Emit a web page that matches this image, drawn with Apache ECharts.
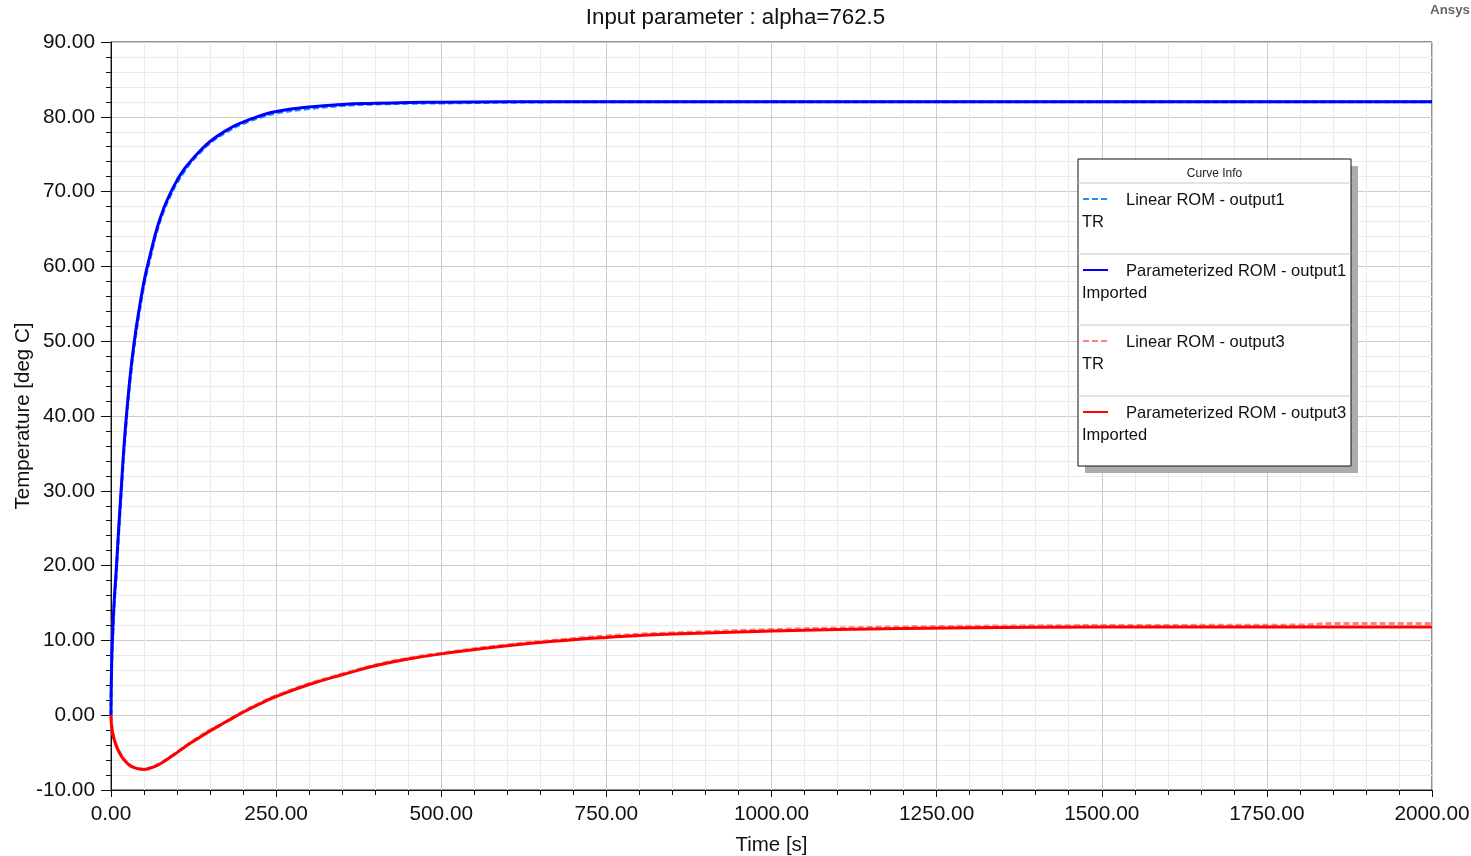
<!DOCTYPE html>
<html>
<head>
<meta charset="utf-8">
<title>Input parameter : alpha=762.5</title>
<script src="https://cdn.jsdelivr.net/npm/echarts@6.0.0/dist/echarts.min.js"></script>
<style>
  html, body { margin: 0; padding: 0; background: #fff; overflow: hidden; }
  #chart { width: 100vw; height: 100vh; }
</style>
</head>
<body>
<div id="chart"></div>
<script>
// time samples [s], shared by every curve
const timeS = [0, 1, 3, 5, 8, 11, 16, 21, 28, 35, 43, 50, 55, 60, 70, 80, 90, 100, 110, 120,
  130, 150, 175, 200, 225, 250, 300, 350, 400, 450, 500, 600, 700, 750, 850, 1000, 1100, 1200,
  1400, 1600, 1800, 1850, 2000];

// temperatures [deg C]
const linearOut1 = [0, 6.5, 11.5, 15, 19, 23.5, 30.5, 37, 44, 49.3, 54, 57.6, 59.6, 61.4, 64.9,
  67.5, 69.5, 71.2, 72.6, 73.8, 74.8, 76.5, 78.0, 79.1, 79.9, 80.5, 81.1, 81.5, 81.7, 81.8,
  81.85, 81.95, 82, 82, 82, 82, 82, 82, 82, 82, 82, 82, 82];
const paramOut1 = [0, 7, 12, 15.5, 19.5, 24, 31, 37.5, 44.5, 49.8, 54.5, 58, 60, 61.8, 65.2,
  67.8, 69.8, 71.5, 72.9, 74.0, 75.0, 76.7, 78.2, 79.3, 80.1, 80.7, 81.3, 81.65, 81.8, 81.9,
  81.95, 82, 82, 82, 82, 82, 82, 82, 82, 82, 82, 82, 82];
const linearOut3 = [0, -1.4, -2.5, -3.2, -4.0, -4.6, -5.4, -6.0, -6.6, -6.95, -7.15, -7.2,
  -7.15, -7.0, -6.65, -6.15, -5.55, -4.95, -4.3, -3.7, -3.1, -2.0, -0.8, 0.5, 1.6, 2.6, 4.2,
  5.5, 6.7, 7.6, 8.3, 9.4, 10.25, 10.6, 11.0, 11.45, 11.65, 11.8, 11.95, 12.0, 12.05, 12.25, 12.25];
const paramOut3 = [0, -1.5, -2.6, -3.3, -4.1, -4.7, -5.5, -6.1, -6.7, -7.0, -7.2, -7.25,
  -7.2, -7.05, -6.7, -6.2, -5.6, -5.0, -4.35, -3.75, -3.2, -2.1, -0.85, 0.4, 1.5, 2.5, 4.1,
  5.4, 6.6, 7.5, 8.2, 9.3, 10.1, 10.4, 10.85, 11.25, 11.45, 11.6, 11.75, 11.8, 11.8, 11.8, 11.8];

const seriesNames = ['Linear ROM - output1', 'Parameterized ROM - output1',
  'Linear ROM - output3', 'Parameterized ROM - output3'];
const sourceNames = ['TR', 'Imported', 'TR', 'Imported'];
const seriesColors = ['#1e8fff', '#0000ff', '#ff8080', '#ff0000'];
const seriesDashed = [true, false, true, false];
const seriesValues = [linearOut1, paramOut1, linearOut3, paramOut3];

const xTicks = { min: 0, max: 2000, step: 250 };
const yTicks = { min: -10, max: 90, step: 10 };

const FONT = '"Liberation Sans", Arial, sans-serif';

const chart = echarts.init(document.getElementById('chart'), null, { renderer: 'canvas' });

const series = seriesNames.map((name, i) => ({
  name,
  type: 'line',
  data: timeS.map((t, k) => [t, seriesValues[i][k]]),
  showSymbol: false,
  smooth: 0.5,
  lineStyle: {
    color: seriesColors[i],
    width: 3,
    type: seriesDashed[i] ? [6, 3] : 'solid'
  },
  itemStyle: { color: seriesColors[i] }
}));

// legend box ("Curve Info") drawn as graphic
const box = { x: 1078, y: 159, w: 273, h: 307, rowH: 71, head: 24 };
const Z = 100;
const legendChildren = [
  { type: 'rect', z: Z, shape: { x: box.x + 7, y: box.y + 7, width: box.w, height: box.h },
    style: { fill: '#acacac' } },
  { type: 'rect', z: Z + 1, shape: { x: box.x, y: box.y, width: box.w, height: box.h },
    style: { fill: '#fff', stroke: '#111', lineWidth: 1 } },
  { type: 'text', z: Z + 2, x: box.x + box.w / 2, y: box.y + 15,
    style: { text: 'Curve Info', font: '12px ' + FONT, fill: '#222', align: 'center', verticalAlign: 'middle' } },
  { type: 'line', z: Z + 2, shape: { x1: box.x, y1: box.y + box.head, x2: box.x + box.w, y2: box.y + box.head },
    style: { stroke: '#c8c8c8', lineWidth: 1 } }
];
seriesNames.forEach((name, i) => {
  const top = box.y + box.head + i * box.rowH;
  if (i > 0) {
    legendChildren.push({ type: 'line', z: Z + 2, shape: { x1: box.x, y1: top, x2: box.x + box.w, y2: top },
      style: { stroke: '#c8c8c8', lineWidth: 1 } });
  }
  legendChildren.push({ type: 'line', z: Z + 2,
    shape: { x1: box.x + 5, y1: top + 16, x2: box.x + 30, y2: top + 16 },
    style: { stroke: seriesColors[i], lineWidth: 2, lineDash: seriesDashed[i] ? [6, 3] : null } });
  legendChildren.push({ type: 'text', z: Z + 2, x: box.x + 48, y: top + 17,
    style: { text: name, font: '16.5px ' + FONT, fill: '#111', verticalAlign: 'middle' } });
  legendChildren.push({ type: 'text', z: Z + 2, x: box.x + 4, y: top + 39,
    style: { text: sourceNames[i], font: '16.5px ' + FONT, fill: '#111', verticalAlign: 'middle' } });
});

const option = {
  backgroundColor: '#fff',
  animation: false,
  title: {
    text: 'Input parameter : alpha=762.5',
    left: 'center',
    top: 7,
    padding: 0,
    textStyle: { fontFamily: FONT, fontSize: 22.3, fontWeight: 'normal', color: '#111' }
  },
  grid: {
    left: 111, right: 39, top: 42, bottom: 66,
    outerBoundsMode: 'none',
    show: true, borderColor: '#222', borderWidth: 1, backgroundColor: '#fff'
  },
  xAxis: {
    type: 'value',
    min: xTicks.min, max: xTicks.max, interval: xTicks.step,
    name: 'Time [s]',
    nameLocation: 'middle',
    nameGap: 45,
    nameMoveOverlap: false,
    nameTextStyle: { fontFamily: FONT, fontSize: 20.5, color: '#111' },
    axisLine: { onZero: false, lineStyle: { color: '#111', width: 1 } },
    axisTick: { show: true, length: 7, lineStyle: { color: '#111' } },
    minorTick: { show: true, splitNumber: 5, length: 5, lineStyle: { color: '#111' } },
    axisLabel: { margin: 14, fontFamily: FONT, fontSize: 20.8, color: '#111',
      formatter: v => v.toFixed(2) },
    splitLine: { show: true, lineStyle: { color: '#cccccc', width: 1 } },
    minorSplitLine: { show: true, lineStyle: { color: '#ebebeb', width: 1 } }
  },
  yAxis: {
    type: 'value',
    min: yTicks.min, max: yTicks.max, interval: yTicks.step,
    name: 'Temperature [deg C]',
    nameLocation: 'middle',
    nameGap: 77,
    nameMoveOverlap: false,
    nameTextStyle: { fontFamily: FONT, fontSize: 20.5, color: '#111' },
    axisLine: { show: true, onZero: false, lineStyle: { color: '#111', width: 1 } },
    axisTick: { show: true, length: 10, lineStyle: { color: '#111' } },
    minorTick: { show: true, splitNumber: 5, length: 5, lineStyle: { color: '#111' } },
    axisLabel: { margin: 16, fontFamily: FONT, fontSize: 20.8, color: '#111',
      formatter: v => v.toFixed(2) },
    splitLine: { show: true, lineStyle: { color: '#cccccc', width: 1 } },
    minorSplitLine: { show: true, lineStyle: { color: '#ebebeb', width: 1 } }
  },
  graphic: [
    { type: 'text', right: 1, top: 4, z: Z,
      style: { text: 'Ansys', font: 'bold 13.3px ' + FONT, fill: '#666' } },
    { type: 'group', silent: true, z: Z, children: legendChildren }
  ],
  series
};

chart.setOption(option);
window.addEventListener('resize', () => chart.resize());
</script>
</body>
</html>
